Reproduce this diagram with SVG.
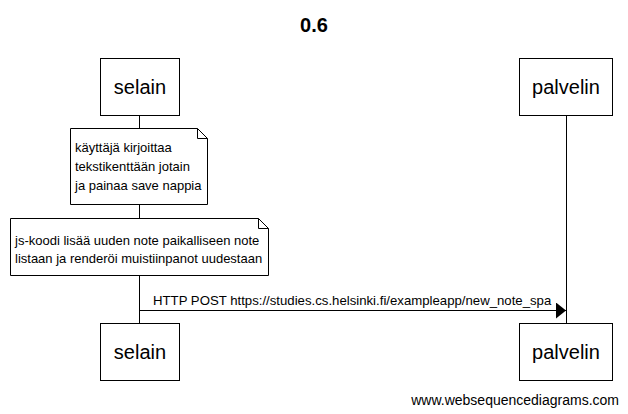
<svg xmlns="http://www.w3.org/2000/svg" width="628" height="414" viewBox="0 0 628 414">
<style>
.box{fill:#fff;stroke:#000;stroke-width:1}
.life{stroke:#000;stroke-width:1}
.note{fill:#fff;stroke:#000;stroke-width:1}
.fold{fill:none;stroke:#000;stroke-width:1}
.t{font-family:"Liberation Sans",Arial,sans-serif;fill:#000}
.actor{font-size:20px}
.nt{font-size:13px}
</style>
<defs>
<marker id="arr" markerWidth="10" markerHeight="16" refX="10" refY="8" orient="auto" markerUnits="userSpaceOnUse">
<path d="M0,0 L10,8 L0,16 Z" fill="#000"/>
</marker>
</defs>
<rect width="628" height="414" fill="#fff"/>
<text class="t" x="314" y="32" text-anchor="middle" font-size="20" font-weight="bold">0.6</text>
<g id="lifelines">
<line class="life" x1="139.5" y1="116" x2="139.5" y2="323"/>
<line class="life" x1="566.5" y1="116" x2="566.5" y2="323"/>
</g>
<g id="selain-top">
<rect class="box" x="100.5" y="58.5" width="79" height="57"/>
<text class="t actor" x="140" y="94" text-anchor="middle">selain</text>
</g>
<g id="palvelin-top">
<rect class="box" x="519.5" y="58.5" width="93" height="57"/>
<text class="t actor" x="566" y="94" text-anchor="middle">palvelin</text>
</g>
<g id="note1">
<path class="note" d="M70.5,128.5 H197.5 L207.5,138.5 V204.5 H70.5 Z"/>
<path class="fold" d="M197.5,128.5 V138.5 H207.5"/>
<text class="t nt" x="75" y="152">käyttäjä kirjoittaa</text>
<text class="t nt" x="75" y="171">tekstikenttään jotain</text>
<text class="t nt" x="75" y="190">ja painaa save nappia</text>
</g>
<g id="note2">
<path class="note" d="M10.5,218.5 H258.5 L268.5,228.5 V275.5 H10.5 Z"/>
<path class="fold" d="M258.5,218.5 V228.5 H268.5"/>
<text class="t nt" x="15" y="245">js-koodi lisää uuden note paikalliseen note</text>
<text class="t nt" x="15" y="263">listaan ja renderöi muistiinpanot uudestaan</text>
</g>
<g id="connectors">
<line x1="139.5" y1="310.5" x2="566" y2="310.5" stroke="#000" stroke-width="1" marker-end="url(#arr)"/>
<text class="t" x="153" y="305" font-size="13.2">HTTP POST https://studies.cs.helsinki.fi/exampleapp/new_note_spa</text>
</g>
<g id="selain-bottom">
<rect class="box" x="100.5" y="323.5" width="79" height="57"/>
<text class="t actor" x="140" y="359" text-anchor="middle">selain</text>
</g>
<g id="palvelin-bottom">
<rect class="box" x="519.5" y="323.5" width="93" height="57"/>
<text class="t actor" x="566" y="359" text-anchor="middle">palvelin</text>
</g>
<text class="t" x="619" y="405" text-anchor="end" font-size="14">www.websequencediagrams.com</text>
</svg>
